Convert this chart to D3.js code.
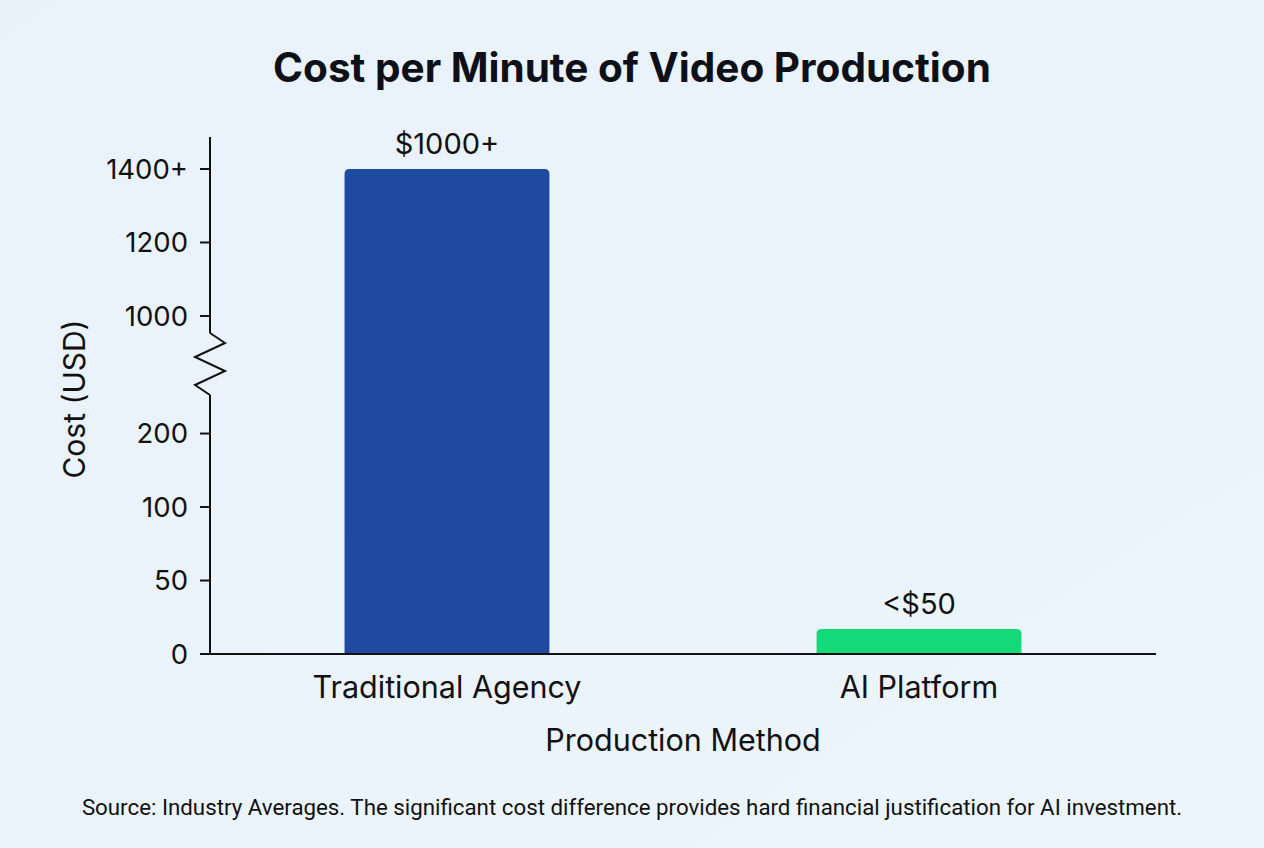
<!DOCTYPE html>
<html><head><meta charset="utf-8">
<script src="https://cdn.jsdelivr.net/npm/d3@7"></script>
<style>
html,body{margin:0;padding:0;background:#eaf3fb;}
svg{display:block;}
</style></head>
<body>
<script>
const categories = ["Traditional Agency", "AI Platform"];
const values = [1400, 17];
const valueLabels = ["$1000+", "<$50"];
const barColors = ["#1f4aa0", "#14d97b"];
const tickValues = [0, 50, 100, 200, 1000, 1200, 1400];
const tickLabels = ["0", "50", "100", "200", "1000", "1200", "1400+"];
// relative vertical slot of each tick (break inserted between 200 and 1000)
const tickSlots = [0, 1, 2, 3, 4.6, 5.6, 6.6];

const W = 1264, H = 848;
const svg = d3.select("body").append("svg").attr("width", W).attr("height", H);

const bg = svg.append("defs").append("linearGradient").attr("id","bg").attr("x1",0).attr("y1",0).attr("x2",1).attr("y2",1);
bg.append("stop").attr("offset","0%").attr("stop-color","#e9f2fa");
bg.append("stop").attr("offset","100%").attr("stop-color","#ecf4fc");
svg.append("rect").attr("width",W).attr("height",H).attr("fill","url(#bg)");

const m = {left:210, right:1156, top:137, bottom:654};
const topTickY = 169;
const slotScale = d3.scaleLinear().domain([0, 6.6]).range([m.bottom, topTickY]);
const y = d3.scaleLinear().domain(tickValues).range(tickSlots.map(s => slotScale(s)));
const x = d3.scaleBand().domain(categories).range([m.left, m.right]).paddingInner(0.566).paddingOuter(0.285);
const FONT = "Inter, 'Noto Sans', sans-serif";

// title
svg.append("text").attr("x", 632).attr("y", 82).attr("text-anchor","middle")
  .attr("font-family",FONT).attr("font-weight",700).attr("font-size",40.5)
  .attr("fill","#0d1117").text("Cost per Minute of Video Production");

// bars with rounded top corners
const r = 5;
categories.forEach((c,i) => {
  const x0 = x(c), w = x.bandwidth(), yt = y(values[i]), yb = y(0);
  const p = `M${x0},${yb} L${x0},${yt+r} Q${x0},${yt} ${x0+r},${yt} L${x0+w-r},${yt} Q${x0+w},${yt} ${x0+w},${yt+r} L${x0+w},${yb} Z`;
  svg.append("path").attr("d", p).attr("fill", barColors[i]);
  svg.append("text").attr("x", x0 + w/2).attr("y", yt - 15).attr("text-anchor","middle")
    .attr("font-family",FONT).attr("font-size",29).attr("fill","#111")
    .text(valueLabels[i]);
});

// y axis with break
const breakTop = 333, breakBot = 395;
const ax = svg.append("g").attr("stroke","#111").attr("stroke-width",2).attr("fill","none");
ax.append("line").attr("x1",m.left).attr("x2",m.left).attr("y1",m.top).attr("y2",breakTop);
ax.append("path").attr("d", d3.line()([[m.left,breakTop],[m.left+15,343],[m.left-15,357],[m.left+15,371],[m.left-15,385],[m.left,breakBot]]));
ax.append("line").attr("x1",m.left).attr("x2",m.left).attr("y1",breakBot).attr("y2",m.bottom);
// x axis line
ax.append("line").attr("x1",m.left-10).attr("x2",m.right).attr("y1",m.bottom).attr("y2",m.bottom);

tickValues.forEach((v,i) => {
  const ty = y(v);
  svg.append("line").attr("x1",m.left-10).attr("x2",m.left).attr("y1",ty).attr("y2",ty)
    .attr("stroke","#111").attr("stroke-width",2);
  svg.append("text").attr("x", m.left-22).attr("y", ty).attr("dy","0.36em").attr("text-anchor","end")
    .attr("font-family",FONT).attr("font-size",27.5).attr("fill","#111")
    .text(tickLabels[i]);
});

// x labels
categories.forEach(c => {
  svg.append("text").attr("x", x(c)+x.bandwidth()/2).attr("y", 698).attr("text-anchor","middle")
    .attr("font-family",FONT).attr("font-size",30.5).attr("fill","#111").text(c);
});

svg.append("text").attr("x", 683).attr("y", 751).attr("text-anchor","middle")
  .attr("font-family",FONT).attr("font-size",30.5).attr("fill","#111").text("Production Method");

svg.append("text").attr("transform","translate(85,399) rotate(-90)").attr("text-anchor","middle")
  .attr("font-family",FONT).attr("font-size",30).attr("fill","#111").text("Cost (USD)");

svg.append("text").attr("x", 632).attr("y", 815).attr("text-anchor","middle")
  .attr("font-family","Roboto, sans-serif").attr("font-size",22.3).attr("fill","#111")
  .text("Source: Industry Averages. The significant cost difference provides hard financial justification for AI investment.");
</script>
</body></html>
